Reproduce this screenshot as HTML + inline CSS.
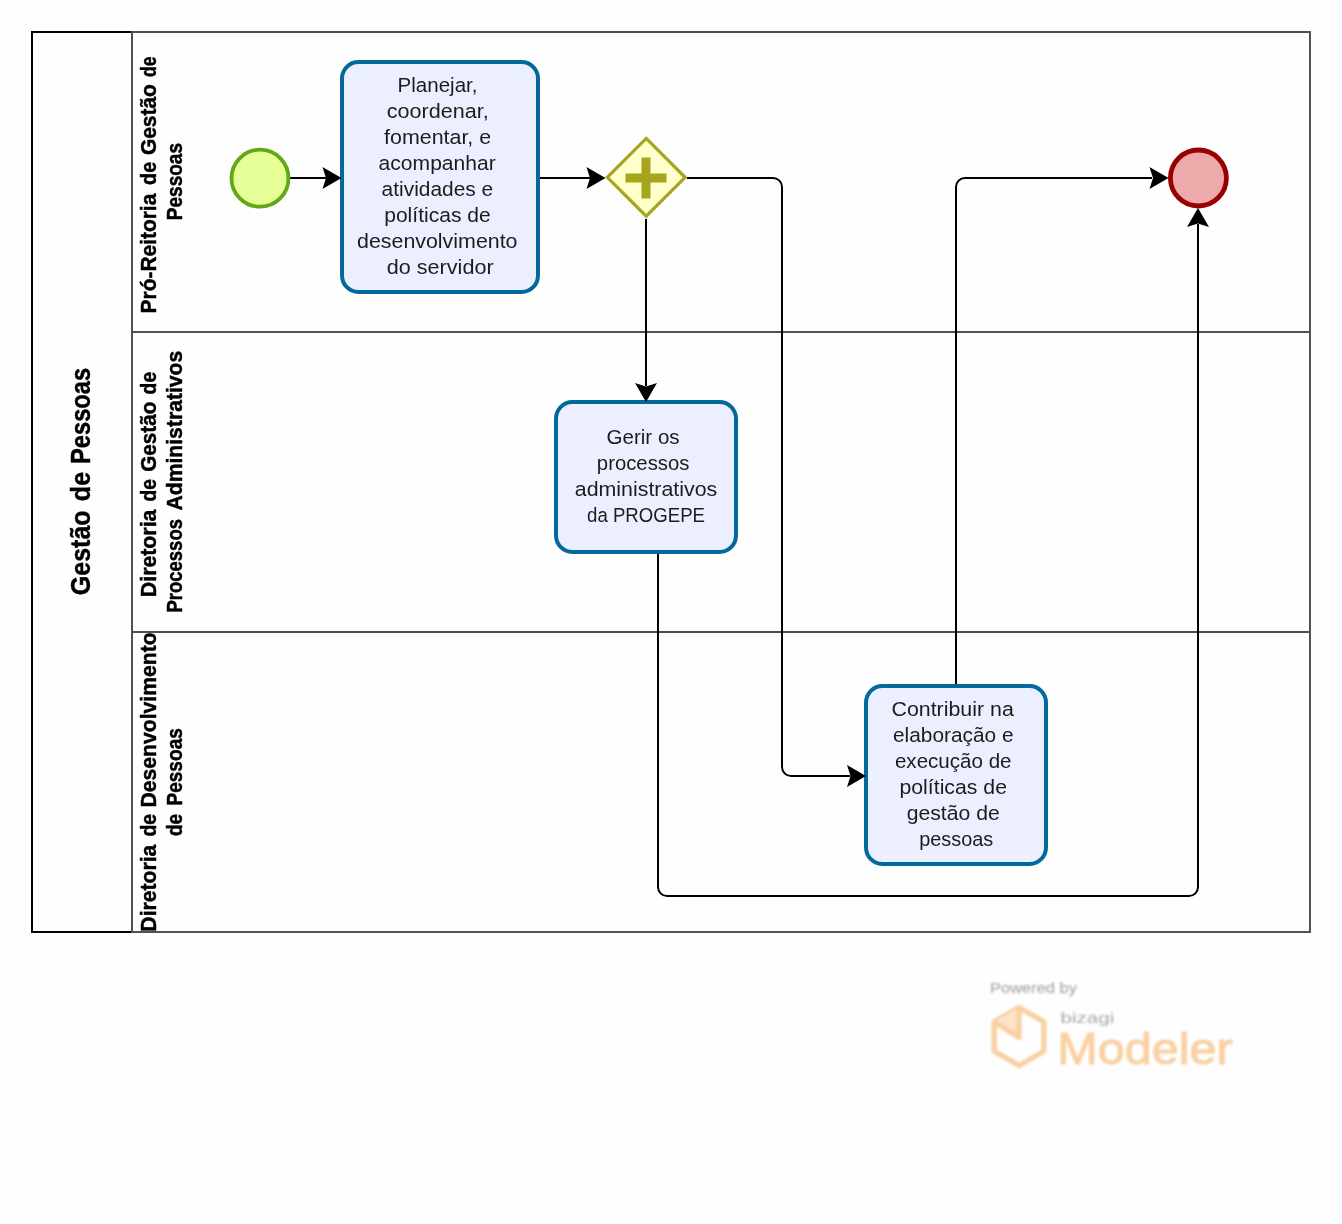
<!DOCTYPE html>
<html lang="pt-BR">
<head>
<meta charset="utf-8">
<title>Gestão de Pessoas</title>
<style>
html,body{margin:0;padding:0;background:#fff;}
body{width:1342px;height:1224px;overflow:hidden;}
svg{display:block;font-family:"Liberation Sans",sans-serif;will-change:transform;}
</style>
</head>
<body>
<svg width="1342" height="1224" viewBox="0 0 1342 1224">
<rect x="0" y="0" width="1342" height="1224" fill="#fefefe"/>
<g fill="none" stroke-width="2">
<rect x="32" y="32" width="100" height="900" stroke="#000"/>
<g stroke="#505050">
<rect x="132" y="32" width="1178" height="900"/>
<line x1="132" y1="332" x2="1310" y2="332"/>
<line x1="132" y1="632" x2="1310" y2="632"/>
</g></g>
<g class="labels">
<text transform="translate(90.00 0) rotate(-90)" y="0" font-size="28" font-weight="bold" stroke="#000" stroke-width="0.45" fill="#000" xml:space="preserve"><tspan x="-595.28" textLength="84.89" lengthAdjust="spacingAndGlyphs">Gestão</tspan> <tspan x="-501.19" textLength="29.36" lengthAdjust="spacingAndGlyphs">de</tspan> <tspan x="-464.01" textLength="96.17" lengthAdjust="spacingAndGlyphs">Pessoas</tspan></text>
<text transform="translate(155.70 0) rotate(-90)" y="0" font-size="22" font-weight="bold" stroke="#000" stroke-width="0.45" fill="#000" xml:space="preserve"><tspan x="-313.43" textLength="119.75" lengthAdjust="spacingAndGlyphs">Pró-Reitoria</tspan> <tspan x="-184.91" textLength="23.11" lengthAdjust="spacingAndGlyphs">de</tspan> <tspan x="-155.06" textLength="70.90" lengthAdjust="spacingAndGlyphs">Gestão</tspan> <tspan x="-76.92" textLength="20.43" lengthAdjust="spacingAndGlyphs">de</tspan></text>
<text transform="translate(181.70 0) rotate(-90)" y="0" font-size="22" font-weight="bold" stroke="#000" stroke-width="0.45" fill="#000" xml:space="preserve"><tspan x="-220.20" textLength="77.17" lengthAdjust="spacingAndGlyphs">Pessoas</tspan></text>
<text transform="translate(155.70 0) rotate(-90)" y="0" font-size="22" font-weight="bold" stroke="#000" stroke-width="0.45" fill="#000" xml:space="preserve"><tspan x="-597.15" textLength="87.53" lengthAdjust="spacingAndGlyphs">Diretoria</tspan> <tspan x="-501.49" textLength="22.47" lengthAdjust="spacingAndGlyphs">de</tspan> <tspan x="-471.75" textLength="70.18" lengthAdjust="spacingAndGlyphs">Gestão</tspan> <tspan x="-394.39" textLength="22.47" lengthAdjust="spacingAndGlyphs">de</tspan></text>
<text transform="translate(181.70 0) rotate(-90)" y="0" font-size="22" font-weight="bold" stroke="#000" stroke-width="0.45" fill="#000" xml:space="preserve"><tspan x="-612.56" textLength="93.51" lengthAdjust="spacingAndGlyphs">Processos</tspan> <tspan x="-510.58" textLength="159.90" lengthAdjust="spacingAndGlyphs">Administrativos</tspan></text>
<text transform="translate(155.70 0) rotate(-90)" y="0" font-size="22" font-weight="bold" stroke="#000" stroke-width="0.45" fill="#000" xml:space="preserve"><tspan x="-931.64" textLength="86.92" lengthAdjust="spacingAndGlyphs">Diretoria</tspan> <tspan x="-836.50" textLength="22.68" lengthAdjust="spacingAndGlyphs">de</tspan> <tspan x="-807.54" textLength="175.28" lengthAdjust="spacingAndGlyphs">Desenvolvimento</tspan></text>
<text transform="translate(181.70 0) rotate(-90)" y="0" font-size="22" font-weight="bold" stroke="#000" stroke-width="0.45" fill="#000" xml:space="preserve"><tspan x="-835.98" textLength="22.14" lengthAdjust="spacingAndGlyphs">de</tspan> <tspan x="-805.60" textLength="77.48" lengthAdjust="spacingAndGlyphs">Pessoas</tspan></text>
</g>
<g fill="none" stroke="#000" stroke-width="2">
<path d="M289 178H326"/>
<path d="M538 178H590"/>
<path d="M646 219V386"/>
<path d="M687 178H773A9 9 0 0 1 782 187V767A9 9 0 0 0 791 776H850"/>
<path d="M956 684V187A9 9 0 0 1 965 178H1152"/>
<path d="M658 554V887A9 9 0 0 0 667 896H1189A9 9 0 0 0 1198 887V224"/>
</g>
<circle cx="260" cy="178.2" r="28.5" fill="#e6ff97" stroke="#62a716" stroke-width="3.8"/>
<circle cx="1198.4" cy="178" r="28" fill="#eeaaaa" stroke="#990000" stroke-width="4.8"/>
<polygon points="646.2,138.4 685.1,177.3 646.2,216.2 607.3,177.3" fill="#ffffcc" stroke="#a6a61d" stroke-width="3.2" stroke-linejoin="miter"/>
<path d="M625.5 173.5H641.5V157.5H650.5V173.5H666.5V182.5H650.5V198.5H641.5V182.5H625.5Z" fill="#a6a61d"/>
<rect x="342" y="62" width="196" height="230" rx="16.5" ry="16.5" fill="#ecefff" stroke="#03689a" stroke-width="4"/>
<rect x="556" y="402" width="180" height="150" rx="16.5" ry="16.5" fill="#ecefff" stroke="#03689a" stroke-width="4"/>
<rect x="866" y="686" width="180" height="178" rx="16.5" ry="16.5" fill="#ecefff" stroke="#03689a" stroke-width="4"/>
<g class="arrows">
<polygon points="341.5,178.0 322.5,167.0 326.0,178.0 322.5,189.0" fill="#000"/>
<polygon points="605.5,178.0 586.5,167.0 590.0,178.0 586.5,189.0" fill="#000"/>
<polygon points="646.0,402.0 635.0,383.0 646.0,386.5 657.0,383.0" fill="#000"/>
<polygon points="866.0,776.0 847.0,765.0 850.5,776.0 847.0,787.0" fill="#000"/>
<polygon points="1168.5,178.0 1149.5,167.0 1153.0,178.0 1149.5,189.0" fill="#000"/>
<polygon points="1198.0,208.0 1187.0,227.0 1198.0,223.5 1209.0,227.0" fill="#000"/>
</g>
<g class="tasktext">
<text font-size="19.3" fill="#1c1c1c" xml:space="preserve"><tspan x="397.60" y="92.20" textLength="79.93" lengthAdjust="spacingAndGlyphs">Planejar,</tspan> <tspan x="386.81" y="118.20" textLength="102.02" lengthAdjust="spacingAndGlyphs">coordenar,</tspan> <tspan x="384.07" y="144.20" textLength="107.09" lengthAdjust="spacingAndGlyphs">fomentar, e</tspan> <tspan x="378.63" y="170.20" textLength="117.09" lengthAdjust="spacingAndGlyphs">acompanhar</tspan> <tspan x="381.63" y="196.20" textLength="111.54" lengthAdjust="spacingAndGlyphs">atividades e</tspan> <tspan x="384.19" y="222.20" textLength="106.52" lengthAdjust="spacingAndGlyphs">políticas de</tspan> <tspan x="357.01" y="248.20" textLength="160.52" lengthAdjust="spacingAndGlyphs">desenvolvimento</tspan> <tspan x="386.80" y="274.20" textLength="106.81" lengthAdjust="spacingAndGlyphs">do servidor</tspan></text>
<text font-size="19.3" fill="#1c1c1c" xml:space="preserve"><tspan x="606.53" y="444.20" textLength="73.14" lengthAdjust="spacingAndGlyphs">Gerir os</tspan> <tspan x="596.84" y="470.20" textLength="92.66" lengthAdjust="spacingAndGlyphs">processos</tspan> <tspan x="574.81" y="496.20" textLength="142.46" lengthAdjust="spacingAndGlyphs">administrativos</tspan> <tspan x="587.03" y="522.20" textLength="118.03" lengthAdjust="spacingAndGlyphs">da PROGEPE</tspan></text>
<text font-size="19.3" fill="#1c1c1c" xml:space="preserve"><tspan x="891.49" y="716.20" textLength="122.30" lengthAdjust="spacingAndGlyphs">Contribuir na</tspan> <tspan x="893.04" y="742.20" textLength="120.53" lengthAdjust="spacingAndGlyphs">elaboração e</tspan> <tspan x="894.95" y="768.20" textLength="116.56" lengthAdjust="spacingAndGlyphs">execução de</tspan> <tspan x="899.48" y="794.20" textLength="107.54" lengthAdjust="spacingAndGlyphs">políticas de</tspan> <tspan x="906.72" y="820.20" textLength="93.05" lengthAdjust="spacingAndGlyphs">gestão de</tspan> <tspan x="919.16" y="846.20" textLength="74.15" lengthAdjust="spacingAndGlyphs">pessoas</tspan></text>
</g>
<defs><filter id="soft" x="-5%" y="-10%" width="110%" height="120%"><feGaussianBlur stdDeviation="0.8"/></filter></defs>
<g class="wm" filter="url(#soft)">
<text x="990.14" y="993.40" font-size="14.5" fill="#acacac" textLength="86.74" lengthAdjust="spacingAndGlyphs" stroke="#acacac" stroke-width="0.25">Powered by</text>
<polygon points="1019,1007.5 1043.8,1021.8 1043.8,1051.2 1019,1065.5 994.2,1051.2 994.2,1021.8" fill="none" stroke="#f9d0a2" stroke-width="5.3" stroke-linejoin="round"/>
<polygon points="1019,1007.5 994.2,1021.8 1019,1038" fill="#fde4c8"/>
<path d="M994.2 1021.8L1019 1037.5V1007.5" fill="none" stroke="#f9d0a2" stroke-width="5.3" stroke-linejoin="round"/>
<text x="1060.43" y="1023.20" font-size="15" fill="#b0b0b0" textLength="53.84" lengthAdjust="spacingAndGlyphs" stroke="#b0b0b0" stroke-width="0.15">bizagi</text>
<text x="1057.21" y="1063.70" font-size="45" fill="#f9d0a2" textLength="175.43" lengthAdjust="spacingAndGlyphs" stroke="#f9d0a2" stroke-width="1.0">Modeler</text>
</g>
</svg>
</body>
</html>
